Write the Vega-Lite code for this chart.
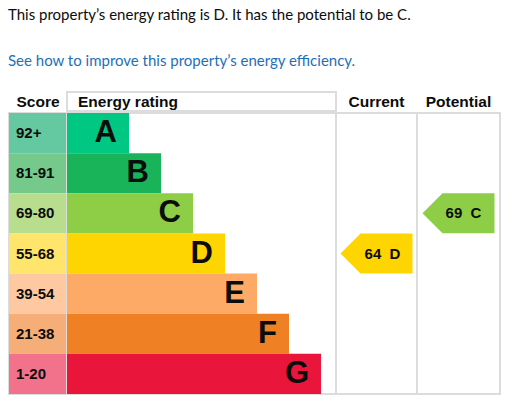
{
  "$schema": "https://vega.github.io/schema/vega-lite/v6.json",
  "padding": {"left": 8, "top": 8, "right": 0, "bottom": 0},
  "title": {
    "text": "This property’s energy rating is D. It has the potential to be C.",
    "subtitle": "See how to improve this property’s energy efficiency.",
    "anchor": "start",
    "font": "Lato",
    "fontSize": 15,
    "fontWeight": "normal",
    "color": "#0b0c0c",
    "subtitleFont": "Lato",
    "subtitleFontSize": 15,
    "subtitleColor": "#1d70b8",
    "subtitlePadding": 31,
    "offset": 22
  },
  "datasets": {
    "bands": [
      {"band": "A", "score": "92+", "rank": 1},
      {"band": "B", "score": "81-91", "rank": 2},
      {"band": "C", "score": "69-80", "rank": 3},
      {"band": "D", "score": "55-68", "rank": 4},
      {"band": "E", "score": "39-54", "rank": 5},
      {"band": "F", "score": "21-38", "rank": 6},
      {"band": "G", "score": "1-20", "rank": 7}
    ],
    "ratings": [
      {"column": "Current", "score": 64, "band": "D"},
      {"column": "Potential", "score": 69, "band": "C"}
    ],
    "headers": [
      {"column": "Score"},
      {"column": "Energy rating"},
      {"column": "Current"},
      {"column": "Potential"}
    ]
  },
  "vconcat": [
    {
      "hconcat": [
        {
          "width": 58, "height": 19,
          "data": {"name": "headers"},
          "transform": [{"filter": "datum.column == 'Score'"}],
          "mark": {"type": "text", "fontSize": 15.5, "fontWeight": "bold", "color": "#0b0c0c"},
          "encoding": {"text": {"field": "column"}}
        },
        {
          "width": 269, "height": 19,
          "data": {"name": "headers"},
          "transform": [{"filter": "datum.column == 'Energy rating'"}],
          "mark": {"type": "text", "fontSize": 15.5, "fontWeight": "bold", "align": "left", "dx": 11, "color": "#0b0c0c"},
          "encoding": {"x": {"value": 0}, "text": {"field": "column"}}
        },
        {
          "width": 81, "height": 19,
          "data": {"name": "headers"},
          "transform": [{"filter": "datum.column == 'Current'"}],
          "mark": {"type": "text", "fontSize": 15.5, "fontWeight": "bold", "color": "#0b0c0c"},
          "encoding": {"text": {"field": "column"}}
        },
        {
          "width": 83, "height": 19,
          "data": {"name": "headers"},
          "transform": [{"filter": "datum.column == 'Potential'"}],
          "mark": {"type": "text", "fontSize": 15.5, "fontWeight": "bold", "color": "#0b0c0c"},
          "encoding": {"text": {"field": "column"}}
        }
      ],
      "spacing": 0,
      "bounds": "flush"
    },
    {
      "hconcat": [
        {
          "width": 58, "height": 281,
          "data": {"name": "bands"},
          "encoding": {
            "y": {"field": "band", "type": "nominal", "scale": {"type": "band", "domain": ["A", "B", "C", "D", "E", "F", "G"], "paddingInner": 0, "paddingOuter": 0}, "axis": null}
          },
          "layer": [
            {
              "mark": {"type": "rect"},
              "encoding": {
                "color": {"field": "band", "type": "nominal", "legend": null,
                  "scale": {"domain": ["A", "B", "C", "D", "E", "F", "G"], "range": ["#64c8a1", "#74c98b", "#b8de8d", "#ffe56b", "#fec9a0", "#f5ae78", "#f2728b"]}}
              }
            },
            {
              "mark": {"type": "text", "align": "left", "dx": 7, "fontSize": 15, "fontWeight": "bold", "color": "#0b0c0c"},
              "encoding": {"x": {"value": 0}, "text": {"field": "score"}}
            }
          ]
        },
        {
          "width": 269, "height": 281,
          "data": {"name": "bands"},
          "encoding": {
            "y": {"field": "band", "type": "nominal", "scale": {"type": "band", "domain": ["A", "B", "C", "D", "E", "F", "G"], "paddingInner": 0, "paddingOuter": 0}, "axis": null},
            "x": {"field": "rank", "type": "quantitative", "scale": {"domain": [-0.9375, 7.46875], "zero": false, "nice": false}, "axis": null}
          },
          "layer": [
            {
              "mark": {"type": "rect"},
              "encoding": {
                "x2": {"value": 0},
                "color": {"field": "band", "type": "nominal", "legend": null,
                  "scale": {"domain": ["A", "B", "C", "D", "E", "F", "G"], "range": ["#00c781", "#19b459", "#8dce46", "#ffd500", "#fcaa65", "#ef8023", "#e9153b"]}}
              }
            },
            {
              "mark": {"type": "text", "align": "right", "dx": -12, "fontSize": 31, "fontWeight": "bold", "color": "#0b0c0c"},
              "encoding": {"text": {"field": "band"}}
            }
          ]
        },
        {
          "width": 81, "height": 281,
          "data": {"name": "ratings"},
          "transform": [
            {"filter": "datum.column == 'Current'"},
            {"calculate": "datum.score + '\u00a0\u00a0' + datum.band", "as": "label"}
          ],
          "encoding": {
            "y": {"field": "band", "type": "nominal", "scale": {"type": "band", "domain": ["A", "B", "C", "D", "E", "F", "G"], "paddingInner": 0, "paddingOuter": 0}, "axis": null}
          },
          "layer": [
            {
              "mark": {"type": "point", "shape": "M-1,0L-0.4444,-0.5556L1,-0.5556L1,0.5556L-0.4444,0.5556Z", "size": 5184, "filled": true, "opacity": 1, "strokeWidth": 0},
              "encoding": {
                "color": {"field": "band", "type": "nominal", "legend": null,
                  "scale": {"domain": ["A", "B", "C", "D", "E", "F", "G"], "range": ["#00c781", "#19b459", "#8dce46", "#ffd500", "#fcaa65", "#ef8023", "#e9153b"]}}
              }
            },
            {
              "mark": {"type": "text", "dx": 6, "fontSize": 15, "fontWeight": "bold", "color": "#0b0c0c"},
              "encoding": {"text": {"field": "label"}}
            }
          ]
        },
        {
          "width": 83, "height": 281,
          "data": {"name": "ratings"},
          "transform": [
            {"filter": "datum.column == 'Potential'"},
            {"calculate": "datum.score + '\u00a0\u00a0' + datum.band", "as": "label"}
          ],
          "encoding": {
            "y": {"field": "band", "type": "nominal", "scale": {"type": "band", "domain": ["A", "B", "C", "D", "E", "F", "G"], "paddingInner": 0, "paddingOuter": 0}, "axis": null}
          },
          "layer": [
            {
              "mark": {"type": "point", "shape": "M-1,0L-0.4444,-0.5556L1,-0.5556L1,0.5556L-0.4444,0.5556Z", "size": 5184, "filled": true, "opacity": 1, "strokeWidth": 0},
              "encoding": {
                "color": {"field": "band", "type": "nominal", "legend": null,
                  "scale": {"domain": ["A", "B", "C", "D", "E", "F", "G"], "range": ["#00c781", "#19b459", "#8dce46", "#ffd500", "#fcaa65", "#ef8023", "#e9153b"]}}
              }
            },
            {
              "mark": {"type": "text", "dx": 5, "fontSize": 15, "fontWeight": "bold", "color": "#0b0c0c"},
              "encoding": {"text": {"field": "label"}}
            }
          ]
        }
      ],
      "spacing": 0,
      "bounds": "flush",
      "resolve": {"scale": {"color": "independent", "x": "independent"}}
    }
  ],
  "spacing": 0,
  "config": {
    "font": "Liberation Sans",
    "view": {"stroke": "#dcdcdc", "strokeWidth": 2}
  }
}
